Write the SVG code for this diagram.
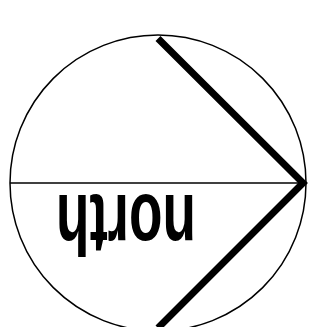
<svg xmlns="http://www.w3.org/2000/svg" width="320" height="327" viewBox="0 0 320 327">
  <style>
    .thin { fill: none; stroke: #000; stroke-width: 1.5; }
    .thick { fill: none; stroke: #000; stroke-width: 7; stroke-linejoin: miter; stroke-linecap: butt; }
    .label { font-family: "Liberation Sans", Arial, sans-serif; font-size: 85px; font-weight: bold; fill: #000; }
  </style>
  <rect width="320" height="327" fill="#fff"/>
  <g id="compass">
    <circle class="thin" cx="158" cy="183" r="148"/>
    <line class="thin" x1="10" y1="183" x2="306" y2="183"/>
    <polyline class="thick" points="158,38.5 303,183 158,328"/>
    <text class="label" transform="translate(196,195) rotate(180) scale(0.645,1)" x="0" y="0">north</text>
  </g>
</svg>
